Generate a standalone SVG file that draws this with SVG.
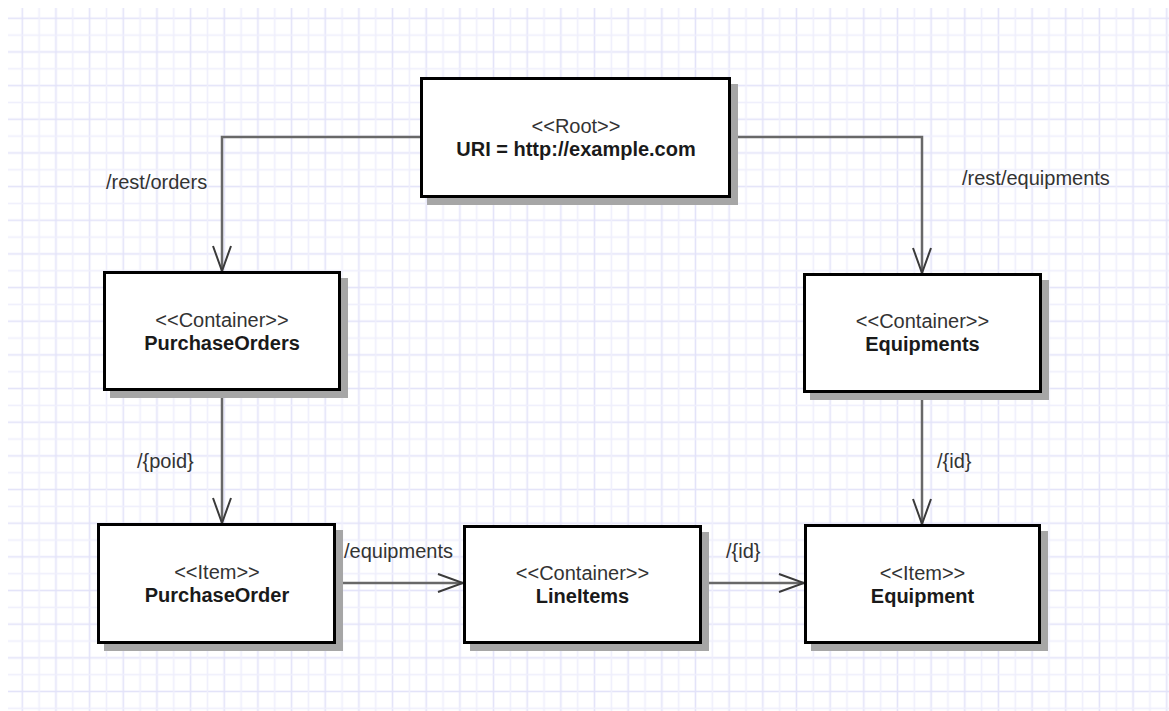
<svg xmlns="http://www.w3.org/2000/svg" width="1169" height="711" viewBox="0 0 1169 711">
  <defs>
    <!-- background grid: major line every 2 cells, minor in between -->
    <pattern id="grid" patternUnits="userSpaceOnUse" x="13.9" y="9.9" width="33.66" height="33.66">
      <rect x="7.6" y="0" width="1.6" height="33.66" fill="#e3e3f9"/>
      <rect x="0" y="7.6" width="33.66" height="1.6" fill="#e3e3f9"/>
      <rect x="24.45" y="0" width="1.6" height="33.66" fill="#efeffc"/>
      <rect x="0" y="24.45" width="33.66" height="1.6" fill="#efeffc"/>
    </pattern>
    <filter id="soft" x="-5%" y="-5%" width="110%" height="110%">
      <feGaussianBlur stdDeviation="0.5"/>
    </filter>
    <marker id="open-arrow" markerUnits="userSpaceOnUse" markerWidth="30" markerHeight="24" viewBox="-28 -12 30 24" refX="0" refY="0" orient="auto">
      <path d="M-25,-9 L0,0 L-25,9" fill="none" stroke="#3a3a3a" stroke-width="2"/>
    </marker>
  </defs>
  <style>
    .shadow { fill: #a6a6a6; filter: url(#soft); }
    .box { fill: #ffffff; stroke: #000000; stroke-width: 3; }
    .stereo { font-family: "Liberation Sans", Arial, sans-serif; font-size: 20px; fill: #333333; text-anchor: middle; }
    .name { font-family: "Liberation Sans", Arial, sans-serif; font-size: 20px; font-weight: bold; fill: #1a1a1a; text-anchor: middle; }
    .edge { fill: none; stroke: #686868; stroke-width: 2.5; marker-end: url(#open-arrow); }
    .label { font-family: "Liberation Sans", Arial, sans-serif; font-size: 20px; fill: #333333; }
  </style>

  <rect x="0" y="0" width="1169" height="711" fill="#ffffff"/>
  <rect x="8" y="8" width="1161" height="703" fill="url(#grid)"/>

  <g id="connectors">
    <path class="edge" d="M420,137 H222 V271"/>
    <path class="edge" d="M731,137 H922 V273"/>
    <path class="edge" d="M222,391 V523"/>
    <path class="edge" d="M922,393 V524"/>
    <path class="edge" d="M336,583 H463"/>
    <path class="edge" d="M702,583 H804"/>
    <text class="label" x="106" y="189">/rest/orders</text>
    <text class="label" x="962" y="185">/rest/equipments</text>
    <text class="label" x="137" y="468">/{poid}</text>
    <text class="label" x="937" y="468">/{id}</text>
    <text class="label" x="344" y="558">/equipments</text>
    <text class="label" x="726" y="558">/{id}</text>
  </g>

  <g id="root">
    <rect class="shadow" x="427" y="84" width="311" height="121"/>
    <rect class="box" x="421.5" y="78.5" width="308" height="118"/>
    <text class="stereo" x="576" y="133">&lt;&lt;Root&gt;&gt;</text>
    <text class="name" x="576" y="156">URI = http://example.com</text>
  </g>

  <g id="purchase-orders">
    <rect class="shadow" x="110" y="278" width="238" height="120"/>
    <rect class="box" x="104.5" y="272.5" width="235" height="117"/>
    <text class="stereo" x="222" y="326.5">&lt;&lt;Container&gt;&gt;</text>
    <text class="name" x="222" y="349.5">PurchaseOrders</text>
  </g>

  <g id="equipments">
    <rect class="shadow" x="810" y="280" width="239" height="120"/>
    <rect class="box" x="804.5" y="274.5" width="236" height="117"/>
    <text class="stereo" x="922.5" y="328">&lt;&lt;Container&gt;&gt;</text>
    <text class="name" x="922.5" y="351">Equipments</text>
  </g>

  <g id="purchase-order">
    <rect class="shadow" x="104" y="530" width="239" height="121"/>
    <rect class="box" x="98.5" y="524.5" width="236" height="118"/>
    <text class="stereo" x="217" y="578.5">&lt;&lt;Item&gt;&gt;</text>
    <text class="name" x="217" y="601.5">PurchaseOrder</text>
  </g>

  <g id="line-items">
    <rect class="shadow" x="470" y="532" width="239" height="119"/>
    <rect class="box" x="464.5" y="526.5" width="236" height="116"/>
    <text class="stereo" x="582.5" y="580">&lt;&lt;Container&gt;&gt;</text>
    <text class="name" x="582.5" y="603">LineItems</text>
  </g>

  <g id="equipment">
    <rect class="shadow" x="811" y="531" width="237" height="120"/>
    <rect class="box" x="805.5" y="525.5" width="234" height="117"/>
    <text class="stereo" x="922.5" y="579.5">&lt;&lt;Item&gt;&gt;</text>
    <text class="name" x="922.5" y="602.5">Equipment</text>
  </g>
</svg>
